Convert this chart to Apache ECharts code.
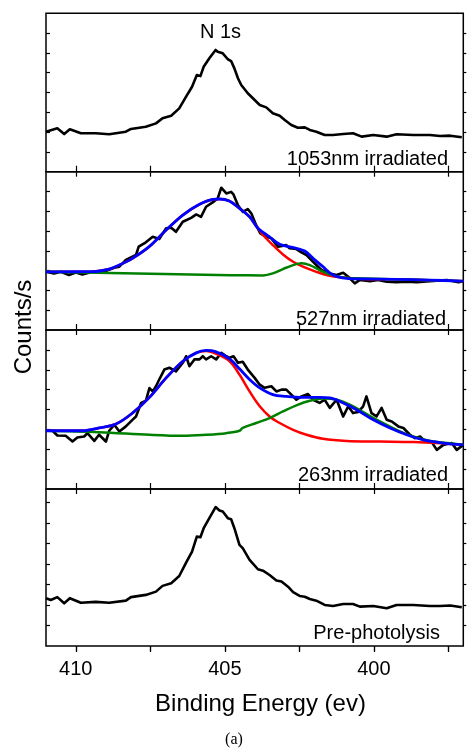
<!DOCTYPE html>
<html>
<head>
<meta charset="utf-8">
<script src="https://cdn.jsdelivr.net/npm/echarts@6/dist/echarts.min.js"></script>
<style>
  html, body { margin: 0; padding: 0; background: #fff; }
  #chart { width: 476px; height: 749px; }
</style>
</head>
<body>
<div id="chart"></div>
<script>
// N 1s spectra, [binding energy (eV), counts in tick units]
const ev1053 = [[411.0,2.02],[410.62,2.19],[410.39,1.90],[410.2,2.14],[409.83,1.94],[409.33,1.94],[408.88,1.89],[408.32,2.02],[408.15,2.16],[407.65,2.27],[407.31,2.44],[407.09,2.70],[406.80,2.83],[406.53,3.20],[406.30,3.79],[406.10,4.29],[405.94,4.88],[405.82,4.83],[405.71,5.30],[405.52,5.73],[405.31,6.15],[405.24,6.06],[405.07,5.98],[404.90,5.68],[404.79,5.59],[404.68,5.22],[404.56,4.72],[404.45,4.38],[404.23,3.96],[404.00,3.62],[403.83,3.37],[403.61,3.25],[403.39,2.95],[403.16,2.83],[402.99,2.61],[402.77,2.36],[402.55,2.22],[402.32,2.24],[402.15,2.11],[401.93,2.02],[401.65,1.85],[401.37,1.85],[401.03,1.90],[400.70,1.94],[400.41,1.77],[400.02,1.85],[399.57,1.77],[399.24,1.89],[398.68,1.85],[398.12,1.85],[397.78,1.80],[397.44,1.82],[397.05,1.74]];

const ev527 = [[411.0,2.94],[410.73,2.86],[410.5,2.94],[410.23,2.78],[410.0,2.91],[409.78,2.81],[409.44,2.94],[409.0,2.98],[408.71,3.15],[408.54,3.2],[408.32,3.54],[408.1,3.7],[407.98,3.79],[407.89,4.21],[407.65,4.43],[407.42,4.71],[407.2,4.6],[406.97,5.14],[406.8,5.17],[406.64,4.96],[406.41,5.47],[406.13,5.67],[405.96,5.84],[405.8,5.72],[405.63,6.23],[405.41,6.45],[405.24,6.65],[405.12,7.19],[404.95,6.9],[404.79,6.98],[404.71,6.85],[404.56,6.31],[404.4,5.97],[404.23,6.11],[404.11,5.89],[403.95,5.3],[403.81,4.88],[403.61,4.71],[403.44,4.63],[403.22,4.21],[402.94,4.29],[402.83,4.13],[402.6,4.09],[402.43,3.92],[402.26,3.79],[402.04,3.45],[401.76,3.03],[401.48,2.86],[401.25,2.78],[401.03,2.89],[400.86,2.69],[400.64,2.36],[400.47,2.53],[400.13,2.47],[399.86,2.53],[399.57,2.44],[399.24,2.41],[398.9,2.44],[398.56,2.41],[398.12,2.47],[397.55,2.53],[397.16,2.41],[397.0,2.47]];
const fit527Sum = [[411.0,2.94],[409.44,2.95],[408.88,3.08],[408.54,3.28],[408.1,3.62],[407.54,4.21],[406.97,5.05],[406.41,5.81],[405.85,6.35],[405.41,6.6],[405.18,6.62],[404.85,6.52],[404.51,6.15],[404.17,5.72],[403.89,5.14],[403.5,4.71],[403.16,4.33],[402.6,4.13],[402.32,3.99],[402.04,3.62],[401.71,3.2],[401.37,2.78],[400.92,2.61],[400.36,2.58],[399.24,2.56],[398.12,2.52],[397.0,2.47]];
const fit527A = [[411.0,2.94],[409.44,2.95],[408.88,3.08],[408.54,3.28],[408.1,3.62],[407.54,4.21],[406.97,5.05],[406.41,5.81],[405.85,6.35],[405.41,6.6],[405.18,6.62],[404.85,6.52],[404.51,6.15],[404.17,5.72],[403.89,5.14],[403.72,4.8],[403.39,4.29],[403.05,3.82],[402.71,3.45],[402.38,3.2],[401.93,2.94],[401.48,2.74],[400.92,2.64],[400.36,2.58],[399.24,2.56],[398.12,2.52],[397.0,2.47]];
const fit527B = [[411.0,2.94],[407.5,2.84],[404.8,2.77],[403.72,2.76],[403.39,2.86],[403.05,3.08],[402.71,3.28],[402.43,3.37],[402.15,3.28],[401.82,3.03],[401.48,2.81],[401.03,2.66],[400.58,2.61],[399.24,2.56],[398.12,2.52],[397.0,2.47]];

const ev263 = [[411.0,2.93],[410.78,2.93],[410.62,2.69],[410.34,2.68],[410.11,2.39],[409.95,2.59],[409.72,2.64],[409.61,2.81],[409.38,2.42],[409.22,2.73],[408.99,2.39],[408.88,2.93],[408.71,3.23],[408.54,2.89],[408.32,3.15],[408.1,3.48],[407.98,3.65],[407.81,4.33],[407.65,4.44],[407.53,5.08],[407.42,4.91],[407.31,5.17],[407.2,5.51],[407.03,6.01],[406.86,6.1],[406.64,5.92],[406.41,6.35],[406.3,6.68],[406.19,6.18],[406.02,6.52],[405.85,6.52],[405.74,6.68],[405.63,6.52],[405.46,6.68],[405.29,6.52],[405.12,6.85],[404.95,6.68],[404.84,6.6],[404.71,6.68],[404.56,6.35],[404.4,6.4],[404.23,6.01],[404.0,5.59],[403.83,5.25],[403.67,5.09],[403.44,5.17],[403.27,4.91],[403.1,5.0],[402.94,5.0],[402.77,4.75],[402.6,4.49],[402.43,4.66],[402.21,4.78],[402.04,4.49],[401.82,4.33],[401.65,4.49],[401.48,4.08],[401.25,4.49],[401.03,3.65],[400.86,4.16],[400.7,3.82],[400.53,3.87],[400.36,4.16],[400.25,4.66],[400.08,3.82],[399.91,3.65],[399.74,4.08],[399.57,3.48],[399.4,3.4],[399.18,3.15],[399.01,3.07],[398.79,2.73],[398.62,2.56],[398.45,2.64],[398.28,2.39],[398.06,2.36],[397.89,1.97],[397.67,2.22],[397.39,2.31],[397.22,1.97],[397.0,2.22]];
const fit263Sum = [[411.0,2.93],[409.78,2.93],[409.22,3.07],[408.65,3.27],[408.1,3.82],[407.53,4.61],[406.97,5.59],[406.41,6.43],[405.96,6.85],[405.63,6.97],[405.29,6.9],[404.84,6.55],[404.51,6.05],[404.17,5.51],[403.83,5.09],[403.39,4.75],[402.94,4.66],[402.38,4.61],[401.82,4.61],[401.48,4.58],[401.03,4.33],[400.58,3.99],[400.02,3.48],[399.46,3.07],[398.9,2.73],[398.34,2.47],[397.67,2.31],[397.0,2.22]];
const fit263A = [[411.0,2.93],[409.78,2.93],[409.22,3.07],[408.65,3.27],[408.1,3.82],[407.53,4.61],[406.97,5.59],[406.41,6.43],[405.96,6.85],[405.63,6.94],[405.29,6.8],[404.84,6.43],[404.51,5.76],[404.17,4.91],[403.83,4.16],[403.5,3.65],[403.16,3.32],[402.71,2.98],[402.26,2.73],[401.71,2.53],[400.92,2.42],[399.8,2.39],[398.68,2.36],[397.89,2.31],[397.0,2.22]];
const fit263B = [[411.0,2.93],[409.22,2.86],[407.53,2.73],[406.41,2.68],[405.63,2.73],[404.95,2.81],[404.51,2.93],[404.4,3.07],[403.95,3.32],[403.5,3.57],[403.05,3.9],[402.6,4.21],[402.15,4.44],[401.71,4.55],[401.25,4.49],[400.81,4.24],[400.36,3.87],[399.8,3.4],[399.24,2.98],[398.68,2.64],[398.12,2.42],[397.55,2.31],[397.0,2.22]];

const evPre = [[411.0,2.33],[410.84,2.24],[410.62,2.38],[410.39,2.08],[410.2,2.33],[409.83,2.11],[409.33,2.15],[408.88,2.11],[408.32,2.21],[408.15,2.38],[407.65,2.49],[407.31,2.65],[407.09,2.93],[406.8,3.06],[406.53,3.41],[406.3,4.06],[406.1,4.6],[405.94,5.33],[405.82,5.3],[405.71,5.74],[405.52,6.23],[405.31,6.77],[405.18,6.6],[405.07,6.55],[404.9,6.23],[404.79,6.18],[404.68,5.74],[404.51,4.93],[404.4,4.77],[404.17,4.2],[403.89,3.74],[403.72,3.67],[403.5,3.46],[403.27,3.19],[403.1,3.14],[402.88,2.89],[402.71,2.62],[402.49,2.44],[402.32,2.4],[402.15,2.29],[401.93,2.21],[401.65,2.0],[401.37,1.95],[401.03,2.05],[400.7,2.05],[400.47,1.92],[400.02,1.95],[399.57,1.84],[399.24,2.0],[398.68,2.0],[398.12,1.95],[397.78,1.95],[397.44,1.97],[397.05,1.89]];

const xTicks = [397.5, 400, 402.5, 405, 407.5, 410];
const xLabels = [400, 405, 410];
const yTicks = [1, 2, 3, 4, 5, 6, 7];
const yMax = [8, 8, 8, 7.65];
const panelNames = ['1053nm irradiated', '527nm irradiated', '263nm irradiated', 'Pre-photolysis'];

var chart = echarts.init(document.getElementById('chart'));
var FONT = '"Liberation Sans", Arial, Helvetica, sans-serif';

// layout of the four stacked panels
var tops = [13.3, 171.7, 330, 489];
var heights = [158.4, 158.3, 159, 157];
var labelPos = [[448, 159], [446, 319], [448, 475], [440, 633]];

var grids = [], xAxes = [], yAxes = [], series = [], texts = [];

for (var i = 0; i < 4; i++) {
  grids.push({
    left: 46, right: 12.7, top: tops[i], height: heights[i],
    show: true, borderColor: '#000', borderWidth: 1.5, backgroundColor: 'transparent'
  });
  var last = (i === 3);
  // bottom axis
  xAxes.push({
    type: 'value', gridIndex: i, position: 'bottom', inverse: true, min: 397, max: 411,
    axisLine: { show: false }, splitLine: { show: false },
    axisTick: { show: true, inside: !last, length: 6, customValues: xTicks, lineStyle: { color: '#000', width: 1.2 } },
    axisLabel: { show: last, customValues: xLabels, fontSize: 20, color: '#000', fontFamily: FONT, margin: 13 }
  });
  // top axis (ticks only)
  xAxes.push({
    type: 'value', gridIndex: i, position: 'top', inverse: true, min: 397, max: 411,
    axisLine: { show: false }, splitLine: { show: false },
    axisTick: { show: true, inside: true, length: 5, customValues: xTicks, lineStyle: { color: '#000', width: 1.2 } },
    axisLabel: { show: false }
  });
  yAxes.push({
    type: 'value', gridIndex: i, position: 'left', min: 0, max: yMax[i],
    axisLine: { show: false }, splitLine: { show: false },
    axisTick: { show: true, inside: true, length: 4, customValues: yTicks, lineStyle: { color: '#000', width: 1.2 } },
    axisLabel: { show: false }
  });
  yAxes.push({
    type: 'value', gridIndex: i, position: 'right', min: 0, max: yMax[i],
    axisLine: { show: false }, splitLine: { show: false },
    axisTick: { show: true, inside: false, length: 3, customValues: yTicks, lineStyle: { color: '#000', width: 1.2 } },
    axisLabel: { show: false }
  });
  texts.push({
    type: 'text', x: labelPos[i][0], y: labelPos[i][1],
    style: { text: panelNames[i], font: '20px ' + FONT, fill: '#000',
      align: 'right', verticalAlign: 'middle', textAlign: 'right', textVerticalAlign: 'middle' }
  });
}

function line(data, panel, color, width, z, smooth) {
  return {
    type: 'line', data: data, xAxisIndex: panel * 2, yAxisIndex: panel * 2,
    showSymbol: false, symbol: 'none', smooth: smooth || false, z: z, animation: false,
    lineStyle: { color: color, width: width, join: 'round' }
  };
}

// raw spectra
series.push(line(ev1053, 0, '#000', 2.6, 2));
series.push(line(ev527, 1, '#000', 2.6, 2));
series.push(line(ev263, 2, '#000', 2.6, 2));
series.push(line(evPre, 3, '#000', 2.6, 2));
// fitted components
series.push(line(fit527A, 1, '#ff0000', 2.5, 3, 0.35));
series.push(line(fit527B, 1, '#008000', 2.5, 4, 0.35));
series.push(line(fit527Sum, 1, '#0000ff', 2.8, 5, 0.35));
series.push(line(fit263A, 2, '#ff0000', 2.5, 3, 0.35));
series.push(line(fit263B, 2, '#008000', 2.5, 4, 0.35));
series.push(line(fit263Sum, 2, '#0000ff', 2.8, 5, 0.35));

texts.push({
  type: 'text', x: 220.5, y: 32,
  style: { text: 'N 1s', font: '20px ' + FONT, fill: '#000',
    align: 'center', verticalAlign: 'middle', textAlign: 'center', textVerticalAlign: 'middle' }
});
texts.push({
  type: 'text', x: 24, y: 327, rotation: Math.PI / 2,
  style: { text: 'Counts/s', font: '24px ' + FONT, fill: '#000',
    align: 'center', verticalAlign: 'middle', textAlign: 'center', textVerticalAlign: 'middle' }
});
texts.push({
  type: 'text', x: 260.5, y: 704,
  style: { text: 'Binding Energy (ev)', font: '24px ' + FONT, fill: '#000',
    align: 'center', verticalAlign: 'middle', textAlign: 'center', textVerticalAlign: 'middle' }
});
texts.push({
  type: 'text', x: 234, y: 740,
  style: { text: '(a)', font: '16px "Liberation Serif", "Times New Roman", serif', fill: '#000',
    align: 'center', verticalAlign: 'middle', textAlign: 'center', textVerticalAlign: 'middle' }
});

chart.setOption({
  animation: false,
  backgroundColor: '#fff',
  grid: grids,
  xAxis: xAxes,
  yAxis: yAxes,
  series: series,
  graphic: texts
});
</script>
</body>
</html>
